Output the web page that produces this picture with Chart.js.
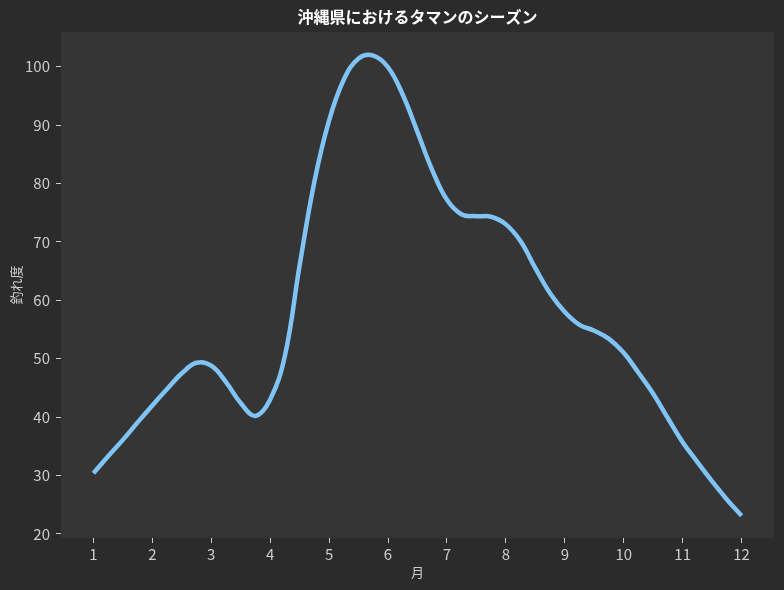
<!DOCTYPE html>
<html>
<head>
<meta charset="utf-8">
<script src="https://cdn.jsdelivr.net/npm/chart.js@4"></script>
<style>
  body { margin: 0; background: #2b2b2b; }
  canvas { display: block; }
</style>
</head>
<body>
<canvas id="tamanChart" width="784" height="590"></canvas>
<script>
// 月（曲線を読み取った位置）
const months = [
  1, 1.25, 1.5, 1.75, 2, 2.25, 2.5, 2.75, 3, 3.25, 3.5, 3.75,
  4, 4.25, 4.5, 4.75, 5, 5.25, 5.5, 5.75, 6, 6.25, 6.5, 6.75,
  7, 7.25, 7.5, 7.75, 8, 8.25, 8.5, 8.75, 9, 9.25, 9.5, 9.75,
  10, 10.25, 10.5, 10.75, 11, 11.25, 11.5, 11.75, 12,
];
// 釣れ度
const catchRate = [
  30.4, 33.3, 36.1, 39.1, 42.0, 44.8, 47.5, 49.3, 48.8, 46.0, 42.4, 40.2,
  43.0, 50.5, 66.0, 80.3, 90.8, 97.8, 101.4, 101.9, 99.9, 95.2, 88.8, 82.3,
  77.2, 74.7, 74.4, 74.3, 73.0, 70.1, 65.5, 61.2, 58.0, 55.8, 54.8, 53.4,
  51.0, 47.6, 44.0, 39.8, 35.7, 32.3, 29.0, 25.9, 23.1,
];
const xTicks = [1, 2, 3, 4, 5, 6, 7, 8, 9, 10, 11, 12];
const yTicks = [20, 30, 40, 50, 60, 70, 80, 90, 100];

const tickFont = { family: "'Liberation Sans Narrow', 'Noto Sans CJK JP'", size: 15 };
const labelFont = { family: "'Noto Sans CJK JP'", size: 13 };

// プロット領域の背景
const plotBg = {
  id: "plotBg",
  beforeDraw(chart) {
    const { ctx, chartArea: a } = chart;
    ctx.save();
    ctx.fillStyle = "#353535";
    ctx.fillRect(a.left, a.top, a.right - a.left, a.bottom - a.top);
    ctx.restore();
  },
};

const ctx = document.getElementById("tamanChart");
new Chart(ctx, {
  type: "line",
  data: {
    datasets: [
      {
        label: "釣れ度",
        data: months.map((m, i) => ({ x: m, y: catchRate[i] })),
        borderColor: "#7fc4f5",
        borderWidth: 4.5,
        pointRadius: 0,
        tension: 0.4,
        fill: false,
      },
    ],
  },
  options: {
    responsive: false,
    animation: false,
    devicePixelRatio: 1,
    layout: { padding: { left: 0, right: 10, top: 0, bottom: 0 } },
    plugins: {
      legend: { display: false },
      tooltip: { enabled: false },
      title: {
        display: true,
        text: "沖縄県におけるタマンのシーズン",
        color: "#ffffff",
        fullSize: false,
        font: { family: "'Noto Sans CJK JP'", size: 16, weight: "bold" },
        padding: { top: 7, bottom: 6 },
      },
    },
    scales: {
      x: {
        type: "linear",
        min: 0.45,
        max: 12.55,
        afterBuildTicks: (s) => { s.ticks = xTicks.map((v) => ({ value: v })); },
        afterFit: (s) => { s.height = 52; },
        grid: { drawOnChartArea: false, drawTicks: true, tickLength: 5, tickColor: "#cccccc", tickWidth: 1 },
        border: { display: false },
        ticks: { color: "#cccccc", font: tickFont, padding: 2, maxRotation: 0 },
        title: { display: true, text: "月", color: "#cccccc", font: labelFont, padding: { top: 0, bottom: 10 } },
      },
      y: {
        type: "linear",
        min: 19.3,
        max: 105.9,
        afterBuildTicks: (s) => { s.ticks = yTicks.map((v) => ({ value: v })); },
        afterFit: (s) => { s.width = 61; },
        grid: { drawOnChartArea: false, drawTicks: true, tickLength: 5, tickColor: "#cccccc", tickWidth: 1 },
        border: { display: false },
        ticks: { color: "#cccccc", font: tickFont, padding: 6 },
        title: { display: true, text: "釣れ度", color: "#cccccc", font: labelFont, padding: { top: 8, bottom: 0 } },
      },
    },
  },
  plugins: [plotBg],
});
</script>
</body>
</html>
